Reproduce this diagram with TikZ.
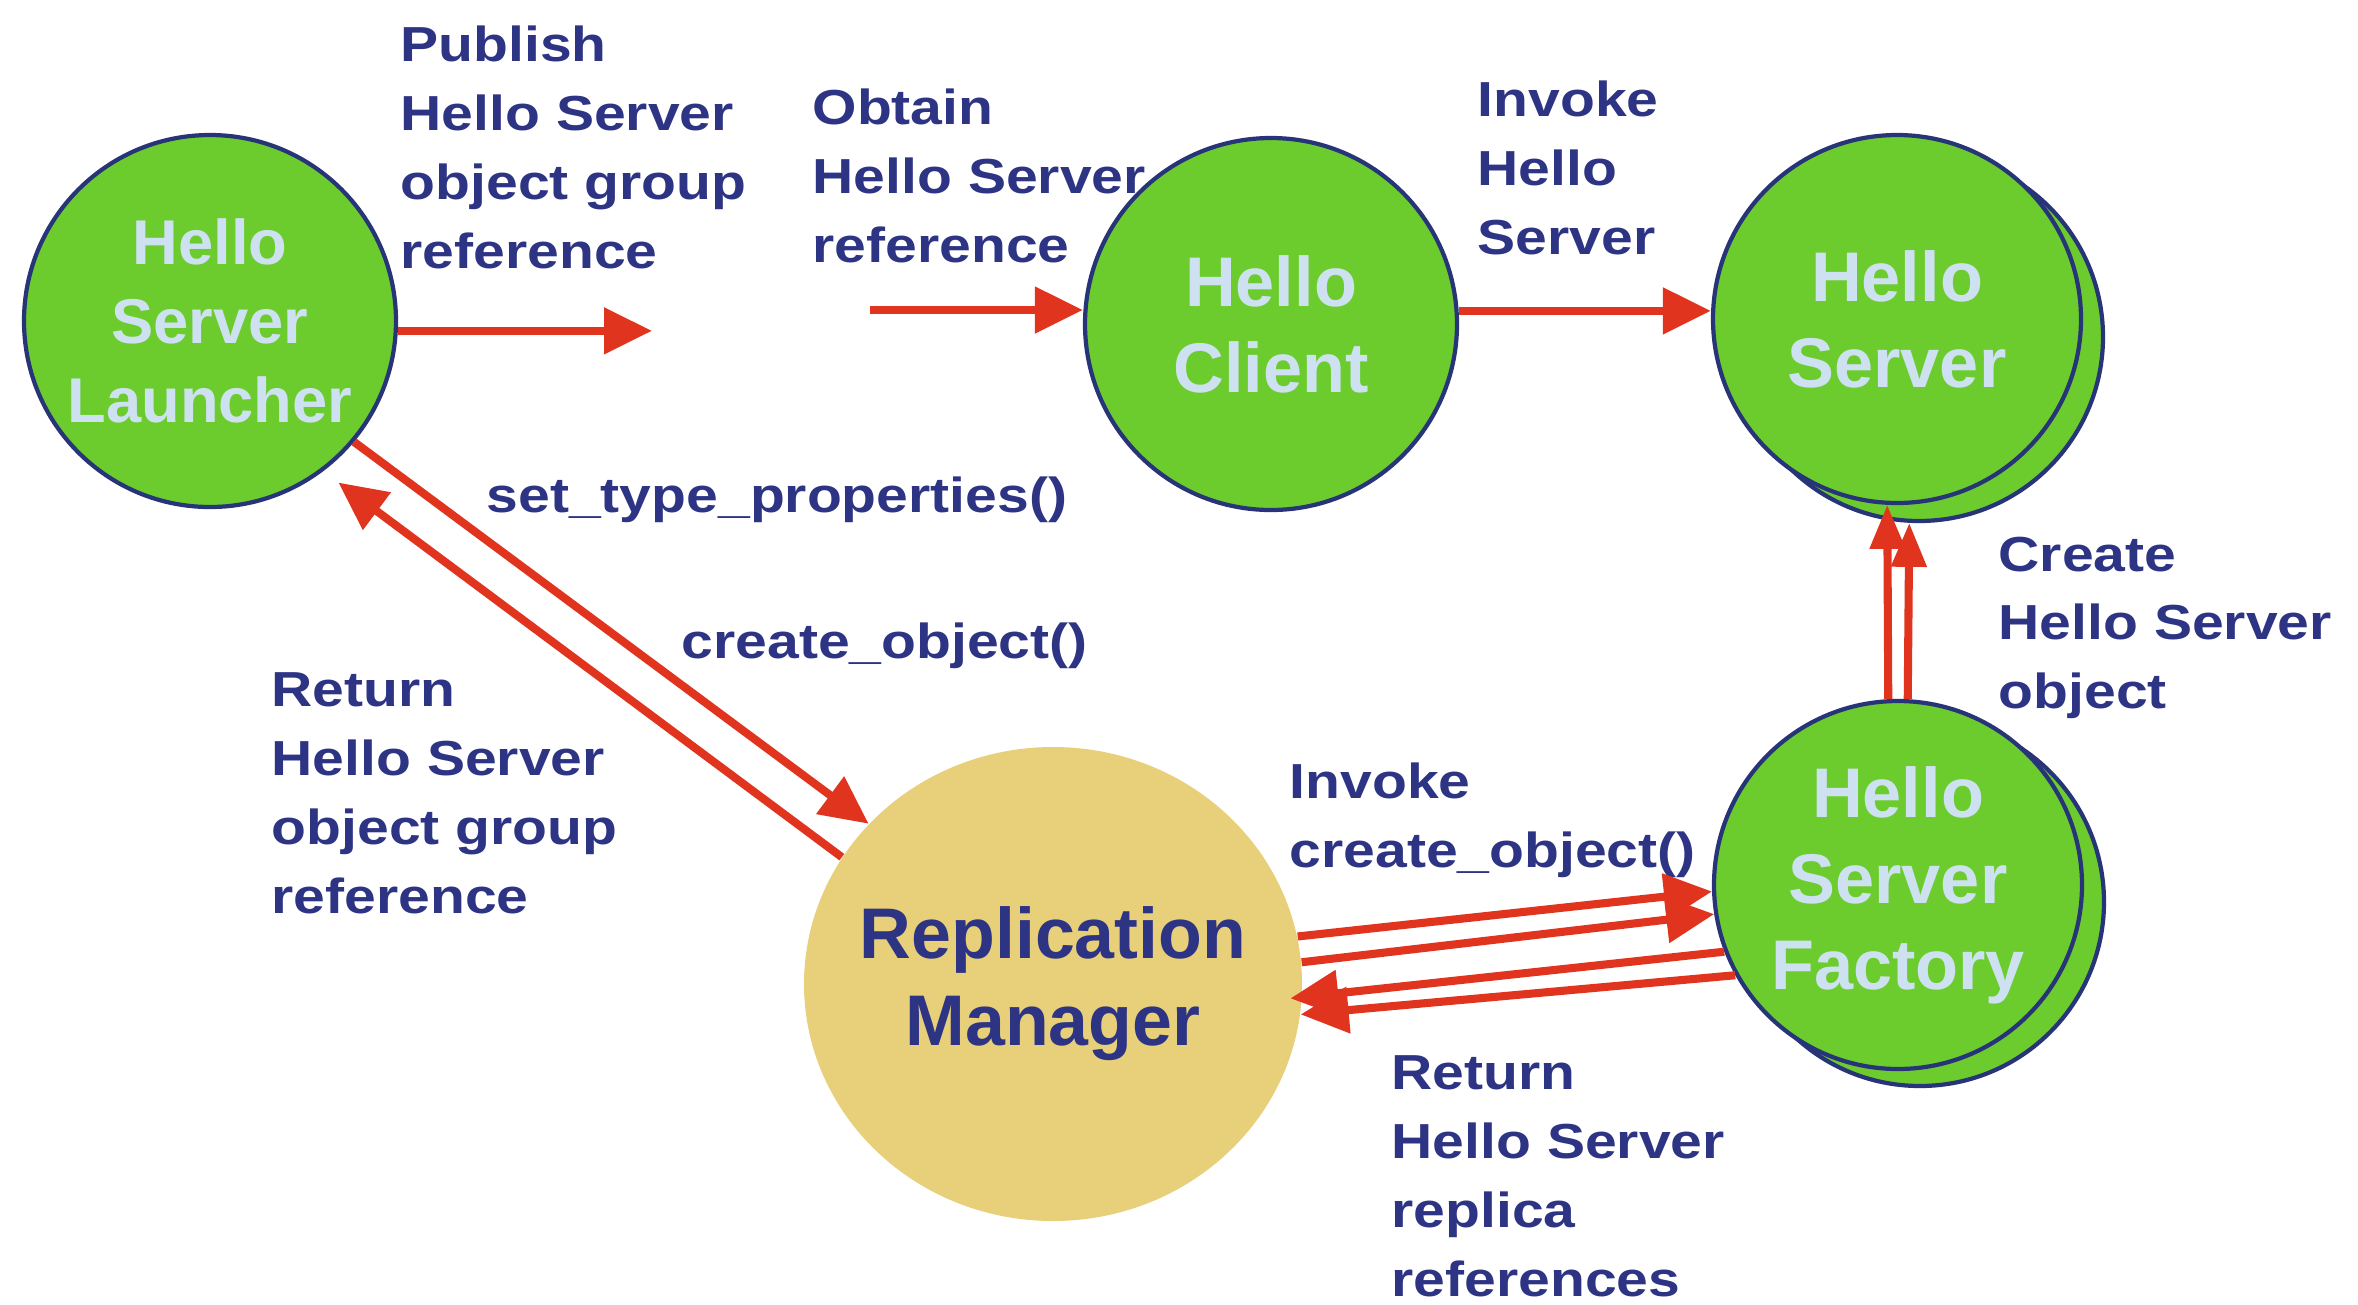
\documentclass[tikz,border=0pt]{standalone}
\usepackage{fontspec}
\setmainfont{Liberation Sans}
\newfontfamily\lblfont[FakeStretch=1.16]{Liberation Sans}
\usetikzlibrary{arrows.meta,shapes.geometric}
\definecolor{nodegreen}{RGB}{108,204,46}
\definecolor{navyline}{RGB}{40,52,120}
\definecolor{labelblue}{RGB}{46,52,132}
\definecolor{paleblue}{RGB}{205,225,240}
\definecolor{sandyellow}{RGB}{232,208,122}
\definecolor{arrowred}{RGB}{224,52,30}

\begin{document}
\begin{tikzpicture}[
    obj/.style={circle, draw=navyline, line width=1.2pt, fill=nodegreen, text=paleblue, inner sep=0pt, minimum size=3.68cm, align=center, font=\bfseries\fontsize{20}{24.5}\selectfont},
    rmgr/.style={ellipse, fill=sandyellow, minimum width=4.98cm, minimum height=4.74cm, inner sep=0pt},
    rmtext/.style={align=center, inner sep=0pt, text=labelblue, font=\bfseries\fontsize{20.4}{24.7}\selectfont},
    lbl/.style={anchor=north west, inner sep=0pt, align=left, text=labelblue, font=\lblfont\bfseries\fontsize{14}{19.6}\selectfont},
    arr/.style={-{Triangle[length=0.48cm,width=0.45cm]}, line width=2.3pt, arrowred},
    slimarr/.style={arr, -{Triangle[length=0.44cm,width=0.34cm]}}
]
\useasboundingbox (0,0) rectangle (23.58,-13.04);

\node[obj, minimum size=3.72cm, font=\bfseries\fontsize{18}{22.5}\selectfont] (launcher) at (2.10,-3.21) {Hello\\Server\\Launcher};
\node[obj, minimum size=3.72cm] (client) at (12.71,-3.24) {Hello\\Client};
\node[obj] (server2) at (19.19,-3.37) {};
\node[obj] (server) at (18.97,-3.19) {Hello\\Server};
\node[obj] (factory2) at (19.20,-9.02) {};
\node[obj] (factory) at (18.98,-8.85) {Hello\\Server\\Factory};
\node[rmgr] (rm) at (10.53,-9.84) {};
\node[rmtext] (rmname) at (rm) {Replication\\Manager};

\coordinate (pubtip) at (6.52,-3.32);
\coordinate (obtstart) at (8.70,-3.10);

\node[lbl] (publbl) at (4.00,-0.25) {Publish\\Hello Server\\object group\\reference};
\node[lbl] (obtlbl) at (8.12,-0.88) {Obtain\\Hello Server\\reference};
\node[lbl] (invlbl) at (14.77,-0.80) {Invoke\\Hello\\Server};
\node[lbl] (setlbl) at (4.86,-4.76) {set\_type\_properties()};
\node[lbl] (crlbl) at (6.81,-6.22) {create\_object()};
\node[lbl] (retlbl) at (2.71,-6.72) {Return\\Hello Server\\object group\\reference};
\node[lbl] (invcrlbl) at (12.89,-7.62) {Invoke\\create\_object()};
\node[lbl] (createlbl) at (19.98,-5.36) {Create\\Hello Server\\object};
\node[lbl] (replbl) at (13.91,-10.55) {Return\\Hello Server\\replica\\references};

\draw[arr] (launcher.-3.4) -- (launcher.-3.4 -| pubtip);
\draw[arr] (obtstart) -- (obtstart -| client.west);
\draw[arr] (client.4) -- (client.4 -| server.west);
\draw[arr] (launcher.-40) -- (rm.139.9);
\draw[arr, shorten >=0.19cm] (rm.149.8) -- (launcher.-53);
\draw[slimarr] (factory.93) -- (server.267);
\draw[slimarr] (factory.87) -- (server2.267);
\draw[arr] (rm.11) -- (factory.182);
\draw[arr] (rm.5) -- (factory.189);
\draw[arr, shorten >=-0.12cm] (factory.201) -- (rm.-3);
\draw[arr] (factory.209) -- (rm.-7);
\end{tikzpicture}
\end{document}
